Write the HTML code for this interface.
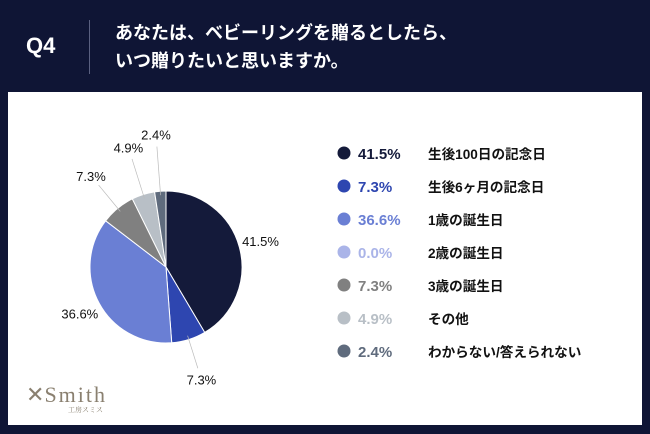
<!DOCTYPE html>
<html><head><meta charset="utf-8"><style>
body{margin:0;width:650px;height:434px;background:#0f1535;font-family:"Liberation Sans","Noto Sans CJK JP",sans-serif;position:relative;overflow:hidden}
.abs{position:absolute}
</style></head><body>
<div class="abs" style="left:26px;top:33px;color:#fff;font-size:22px;font-weight:bold">Q4</div>
<div class="abs" style="left:89px;top:20px;width:1px;height:54px;background:#5a6080"></div>
<div class="abs" style="left:115px;top:19px;color:#fff;font-size:18px;font-weight:bold;line-height:28px">あなたは、ベビーリングを贈るとしたら、<br>いつ贈りたいと思いますか。</div>
<div class="abs" style="left:8px;top:92px;width:634px;height:333px;background:#fff"></div>
<svg class="abs" style="left:0;top:0" width="650" height="434" id="svg"></svg>
<div class="abs" style="left:26px;top:382px;color:#8a8070;font-family:'Liberation Serif',serif">
<span style="font-size:22px">✕</span><span style="font-size:22px;letter-spacing:2px">Smith</span>
<div style="font-size:7px;margin-left:42px;margin-top:-3px;font-family:'Noto Serif CJK SC',serif">工房スミス</div></div>
<script>
const labels=["生後100日の記念日","生後6ヶ月の記念日","1歳の誕生日","2歳の誕生日","3歳の誕生日","その他","わからない/答えられない"];
const values=[41.5,7.3,36.6,0.0,7.3,4.9,2.4];
const colors=["#141a3a","#2e46b0","#6a7fd4","#aab4e8","#808080","#b8bfc6","#5f6b7d"];
const svg=document.getElementById('svg');const NS="http://www.w3.org/2000/svg";
const cx=166,cy=267,R=76;
function mk(t,a){const e=document.createElementNS(NS,t);for(const k in a)e.setAttribute(k,a[k]);svg.appendChild(e);return e;}
const total=values.reduce((a,b)=>a+b,0);
function pt(ang,r){return [cx+r*Math.sin(ang),cy-r*Math.cos(ang)];}
let acc=0;
values.forEach((v,i)=>{
  const a0=acc/total*2*Math.PI;acc+=v;const a1=acc/total*2*Math.PI;
  if(v>0){
    const p0=pt(a0,R),p1=pt(a1,R);
    const s=mk('path',{d:`M${cx},${cy}L${p0[0]},${p0[1]}A${R},${R} 0 ${a1-a0>Math.PI?1:0} 1 ${p1[0]},${p1[1]}Z`,fill:colors[i],stroke:'#fff','stroke-width':1});
    
    
    const m=(a0+a1)/2;const r=v<10?140-v*3:98;
    if(v<10){const q0=pt(m,R-4),q1=pt(m,r-12);mk('line',{x1:q0[0],y1:q0[1],x2:q1[0],y2:q1[1],stroke:'#bbb','stroke-width':0.7});}
    const lp=pt(m,r);
    const t=mk('text',{x:lp[0],y:lp[1]+5,'text-anchor':'middle','font-size':13,fill:'#111'});
    t.textContent=v.toFixed(1)+'%';
    
    
  }
  const y=153+i*33;
  const c=mk('circle',{cx:344,cy:y,r:6.5,fill:colors[i]});
  
  
  const tp=mk('text',{x:358,y:y+6,'font-size':15,'font-weight':'bold',fill:colors[i]});
  tp.textContent=v.toFixed(1)+'%';
  
  
  const tl=mk('text',{x:428,y:y+6,'font-size':13.6,'font-weight':'bold',fill:'#111'});
  tl.textContent=labels[i];
  
  
});
</script>
</body></html>
